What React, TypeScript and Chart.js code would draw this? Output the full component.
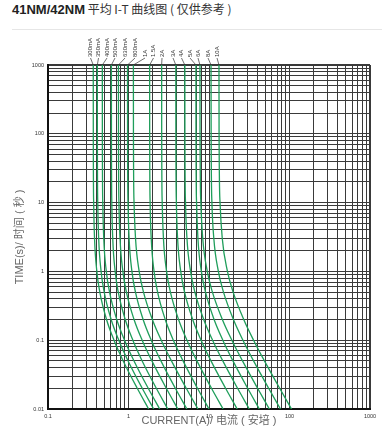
import React, { useEffect, useRef } from "react";
import { Chart, registerables } from "chart.js";

Chart.register(...registerables);

// ---------- data ----------
const FUSE_LABELS = ["300mA", "350mA", "400mA", "500mA", "630mA", "800mA", "1A", "1.5A", "2A", "3A", "4A", "5A", "6A", "8A", "10A"];
// time points (s) at which currents were read
const TIMES = [1000, 100, 10, 3, 1, 0.5, 0.2, 0.1, 0.05, 0.02, 0.01];
// current (A) for each fuse at the TIMES above
const I_300mA = [0.365, 0.3654, 0.3691, 0.3786, 0.4043, 0.4402, 0.5336, 0.6604, 0.8597, 1.284, 1.778];
const I_350mA = [0.41, 0.4105, 0.4149, 0.4262, 0.4567, 0.4991, 0.6088, 0.7571, 0.9891, 1.481, 2.054];
const I_400mA = [0.473, 0.4736, 0.479, 0.4928, 0.5301, 0.5817, 0.7144, 0.8928, 1.171, 1.758, 2.441];
const I_500mA = [0.613, 0.6138, 0.6204, 0.6372, 0.6829, 0.7463, 0.9104, 1.132, 1.479, 2.215, 3.072];
const I_630mA = [0.75, 0.7511, 0.7607, 0.7852, 0.8514, 0.9419, 1.172, 1.478, 1.952, 2.946, 4.097];
const I_800mA = [0.972, 0.9734, 0.9859, 1.018, 1.103, 1.221, 1.519, 1.915, 2.528, 3.816, 5.309];
const I_1A = [1.15, 1.152, 1.172, 1.223, 1.357, 1.536, 1.978, 2.549, 3.417, 5.216, 7.286];
const I_1_5A = [1.83, 1.833, 1.856, 1.916, 2.077, 2.298, 2.86, 3.608, 4.762, 7.189, 10.0];
const I_2A = [2.58, 2.584, 2.622, 2.717, 2.971, 3.317, 4.185, 5.326, 7.077, 10.73, 14.96];
const I_3A = [3.87, 3.877, 3.933, 4.074, 4.455, 4.971, 6.269, 7.976, 10.59, 16.07, 22.39];
const I_4A = [5.01, 5.02, 5.106, 5.325, 5.903, 6.678, 8.593, 11.07, 14.84, 22.64, 31.62];
const I_5A = [6.88, 6.892, 7.004, 7.287, 8.04, 9.053, 11.57, 14.85, 19.84, 30.22, 42.17];
const I_6A = [7.72, 7.74, 7.919, 8.363, 9.52, 11.03, 14.65, 19.23, 26.08, 40.14, 56.23];
const I_8A = [10.6, 10.63, 10.87, 11.48, 13.07, 15.14, 20.11, 26.4, 35.79, 55.09, 77.18];
const I_10A = [13.3, 13.34, 13.71, 14.62, 16.95, 19.94, 27.0, 35.79, 48.83, 75.47, 105.9];
const CURRENTS = [I_300mA, I_350mA, I_400mA, I_500mA, I_630mA, I_800mA, I_1A, I_1_5A, I_2A, I_3A, I_4A, I_5A, I_6A, I_8A, I_10A];

const X_TICK_LABELS = [0.1, 1, 10, 100, 1000];
const Y_TICK_LABELS = [0.01, 0.1, 1, 10, 100, 1000];
const MINOR_STEPS = [1, 2, 3, 4, 5, 6, 7, 8, 9];

// ---------- layout / style ----------
const W = 382;
const H = 428;
const GREEN = "#1f9e5b";
const GRID = "#3a3a3a";
const FONT = "'Liberation Sans', Arial, 'Noto Sans CJK SC', sans-serif";
// pixel x of each rotated fuse label (centre), and label baseline start y
const LABEL_PX = [90.5, 98.5, 107, 115, 125, 135, 145, 153.5, 162, 173, 181.5, 190, 198, 208, 217];
const LABEL_BOTTOM = 57;

const gridValues = (majors: number[]) =>
  majors.slice(0, -1).flatMap((d) => MINOR_STEPS.map((k) => k * d)).concat([majors[majors.length - 1]]);

const isMajor = (v: number, majors: number[]) => majors.some((m) => Math.abs(Math.log10(v) - Math.log10(m)) < 1e-6);

const fuseLabelPlugin = {
  id: "fuseLabels",
  afterDatasetsDraw(chart: any) {
    const ctx = chart.ctx;
    const top = chart.chartArea.top;
    ctx.save();
    chart.data.datasets.forEach((ds: any, i: number) => {
      const meta = chart.getDatasetMeta(i);
      const p = meta.data[0];
      if (!p) return;
      const lx = LABEL_PX[i];
      ctx.strokeStyle = "#333";
      ctx.lineWidth = 0.7;
      ctx.beginPath();
      ctx.moveTo(lx, LABEL_BOTTOM + 1);
      ctx.lineTo(p.x, top);
      ctx.stroke();
      ctx.save();
      ctx.translate(lx, LABEL_BOTTOM);
      ctx.rotate(-Math.PI / 2);
      ctx.fillStyle = "#333";
      ctx.font = `6px ${FONT}`;
      ctx.textAlign = "left";
      ctx.textBaseline = "middle";
      ctx.fillText(ds.label, 0, 0);
      ctx.restore();
    });
    ctx.restore();
  },
};

export default function App() {
  const ref = useRef<HTMLCanvasElement | null>(null);

  useEffect(() => {
    if (!ref.current) return;
    const xGrid = gridValues(X_TICK_LABELS);
    const yGrid = gridValues(Y_TICK_LABELS);
    const chart = new Chart(ref.current, {
      type: "scatter",
      data: {
        datasets: FUSE_LABELS.map((label, i) => ({
          label,
          data: TIMES.map((t, j) => ({ x: CURRENTS[i][j], y: t })),
          showLine: true,
          borderColor: GREEN,
          backgroundColor: GREEN,
          borderWidth: 1.3,
          pointRadius: 0,
          cubicInterpolationMode: "monotone" as const,
        })),
      },
      options: {
        responsive: false,
        animation: false,
        events: [],
        layout: { padding: { left: 0, top: 65, right: 12, bottom: 0 } },
        plugins: { legend: { display: false }, title: { display: false }, tooltip: { enabled: false } },
        scales: {
          x: {
            type: "logarithmic",
            min: 0.1,
            max: 1000,
            afterBuildTicks: (scale: any) => {
              scale.ticks = xGrid.map((v) => ({ value: v, major: isMajor(v, X_TICK_LABELS) }));
            },
            afterFit: (scale: any) => {
              scale.height = 19;
            },
            ticks: {
              autoSkip: false,
              maxRotation: 0,
              minRotation: 0,
              padding: 4,
              color: "#333",
              font: { size: 5.5, family: FONT },
              callback: (v: any) => (isMajor(Number(v), X_TICK_LABELS) ? String(Number(v)) : ""),
            },
            grid: {
              color: GRID,
              lineWidth: (c: any) => (c.tick && c.tick.value === 1000 ? 2 : 1),
              drawTicks: false,
            },
            border: { display: true, color: "#111", width: 2 },
            title: {
              display: true,
              text: "CURRENT(A)/ 电流 ( 安培 )",
              color: "#666",
              font: { size: 11, family: FONT },
              padding: { top: 0, bottom: 0 },
            },
          },
          y: {
            type: "logarithmic",
            min: 0.01,
            max: 1000,
            afterBuildTicks: (scale: any) => {
              scale.ticks = yGrid.map((v) => ({ value: v, major: isMajor(v, Y_TICK_LABELS) }));
            },
            afterFit: (scale: any) => {
              scale.width = 48;
            },
            ticks: {
              autoSkip: false,
              padding: 4,
              color: "#333",
              font: { size: 5.5, family: FONT },
              callback: (v: any) => (isMajor(Number(v), Y_TICK_LABELS) ? String(Number(v)) : ""),
            },
            grid: {
              color: GRID,
              lineWidth: (c: any) => (c.tick && c.tick.value === 1000 ? 2 : 1),
              drawTicks: false,
            },
            border: { display: true, color: "#111", width: 2 },
            title: {
              display: true,
              text: "TIME(s)/ 时间 ( 秒 )",
              color: "#666",
              font: { size: 11, family: FONT },
              padding: { top: 13, bottom: 0 },
            },
          },
        },
      },
      plugins: [fuseLabelPlugin],
    } as any);
    return () => chart.destroy();
  }, []);

  return (
    <div style={{ position: "fixed", left: 0, top: 0, width: W, height: H, background: "#fff", overflow: "hidden" }}>
      <div
        style={{
          position: "absolute",
          left: 12,
          top: 1,
          whiteSpace: "nowrap",
          lineHeight: "16px",
          color: "#222",
          fontFamily: FONT,
        }}
      >
        <span style={{ fontWeight: "bold", fontSize: 13 }}>41NM/42NM</span>
        <span style={{ fontSize: 12, color: "#333", fontFamily: "'Noto Sans CJK SC', sans-serif" }}> 平均 I-T 曲线图 ( 仅供参考 )</span>
      </div>
      <div style={{ position: "absolute", left: 12, right: 0, top: 29, height: 1, background: "#e6e6e6" }} />
      <canvas ref={ref} width={W} height={H} style={{ position: "absolute", left: 0, top: 0, display: "block" }} />
    </div>
  );
}
